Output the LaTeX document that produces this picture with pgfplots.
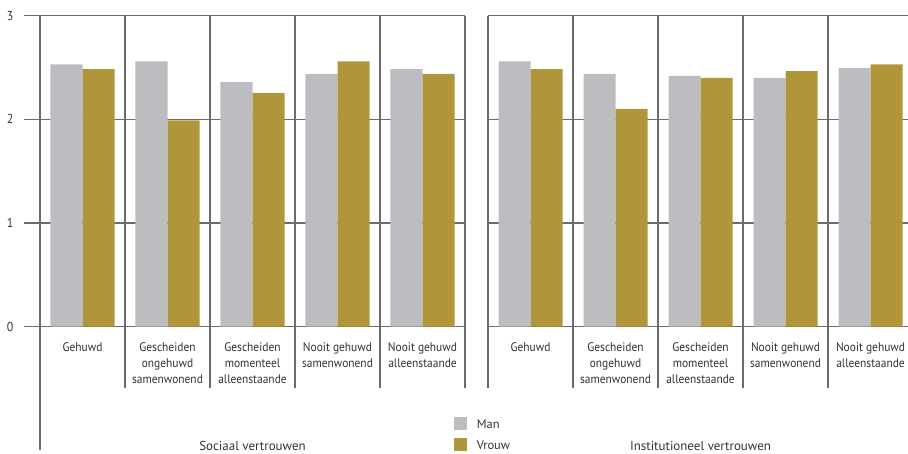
\documentclass[border=0pt]{standalone}
\usepackage{fontspec}
\setmainfont{PT Sans}
\newfontfamily\condensed[FakeStretch=0.92]{PT Sans}
\usepackage{pgfplots}
\usepackage{pgfplotstable}
\pgfplotsset{compat=1.18}
\definecolor{man}{RGB}{188,189,192}
\definecolor{vrouw}{RGB}{176,149,58}
\definecolor{gridc}{RGB}{108,108,108}
\definecolor{txt}{RGB}{50,50,50}

\pgfplotstableread{
x man vrouw
0 2.53 2.485
1 2.56 1.99
2 2.36 2.255
3 2.44 2.56
4 2.485 2.44
}\sociaal
\pgfplotstableread{
x man vrouw
0 2.56 2.485
1 2.44 2.10
2 2.42 2.40
3 2.40 2.465
4 2.495 2.53
}\institutioneel

\pgfplotsset{
  panel/.style={
    scale only axis, height=372.3bp,
    ymin=-0.5913, ymax=3, xmin=-0.5,
    ybar=0pt, bar width=0.3765,
    axis line style={draw=none},
    xtick={-0.5,0.5,...,4.5}, xticklabels={}, xmajorgrids, xmajorticks=false,
    ytick={0,1,2,3}, ymajorgrids,
    grid style={gridc, line width=1.25bp},
    tick style={gridc, line width=1.25bp},
    tick align=outside, major tick length=16bp,
    ytick pos=left,
    /pgf/number format/assume math mode=true,
    tick label style={font=\condensed\fontsize{13}{14}\selectfont, text=txt},
    label style={font=\fontsize{13}{14}\selectfont, text=txt},
    clip=false,
  },
}
\tikzset{
  cat/.style={anchor=north, align=center, inner sep=0pt, yshift=-15.5bp,
    font=\condensed\fontsize{12.5}{16}\selectfont, text=txt},
}

\begin{document}
\begin{tikzpicture}
\path[use as bounding box] (0,0) rectangle (908bp,454bp);

\begin{axis}[panel, at={(40bp,66bp)}, anchor=south west,
  width=425bp, xmax=4.5,
  yticklabel style={xshift=-7bp},
  xlabel={Sociaal vertrouwen},
  xlabel style={at={(axis description cs:0.5,-0.1692)}, anchor=base},
  legend style={draw=none, fill=none, inner sep=0pt, row sep=7.7bp,
    anchor=north west, at={(axis description cs:0.9725,-0.0771)},
    font=\fontsize{12.5}{14}\selectfont, text=txt,
    nodes={inner sep=0pt},
    /tikz/every odd column/.append style={column sep=10bp}},
  legend cell align=left,
  legend image code/.code={\fill[#1] (0bp,-5.4bp) rectangle (13.3bp,7.9bp);},
]
\addplot[fill=man, draw=none] table[x=x, y=man] {\sociaal};
\addlegendentry{Man}
\addplot[fill=vrouw, draw=none] table[x=x, y=vrouw] {\sociaal};
\addlegendentry{Vrouw}
\draw[gridc, line width=1.25bp] (axis cs:-0.5,-0.5913) -- ([yshift=-62bp]axis cs:-0.5,-0.5913);
\node[cat] at (axis cs:0,0) {Gehuwd};
\node[cat] at (axis cs:1,0) {Gescheiden\\ongehuwd\\samenwonend};
\node[cat] at (axis cs:2,0) {Gescheiden\\momenteel\\alleenstaande};
\node[cat] at (axis cs:3,0) {Nooit gehuwd\\samenwonend};
\node[cat] at (axis cs:4,0) {Nooit gehuwd\\alleenstaande};
\end{axis}

\begin{axis}[panel, at={(488bp,66bp)}, anchor=south west,
  width=420bp, xmax=4.441,
  ymajorticks=false, yticklabels={},
  xlabel={Institutioneel vertrouwen},
  xlabel style={at={(axis description cs:0.506,-0.1692)}, anchor=base},
]
\addplot[fill=man, draw=none] table[x=x, y=man] {\institutioneel};
\addplot[fill=vrouw, draw=none] table[x=x, y=vrouw] {\institutioneel};
\node[cat] at (axis cs:0,0) {Gehuwd};
\node[cat] at (axis cs:1,0) {Gescheiden\\ongehuwd\\samenwonend};
\node[cat] at (axis cs:2,0) {Gescheiden\\momenteel\\alleenstaande};
\node[cat] at (axis cs:3,0) {Nooit gehuwd\\samenwonend};
\node[cat] at (axis cs:4,0) {Nooit gehuwd\\alleenstaande};
\end{axis}
\end{tikzpicture}
\end{document}
